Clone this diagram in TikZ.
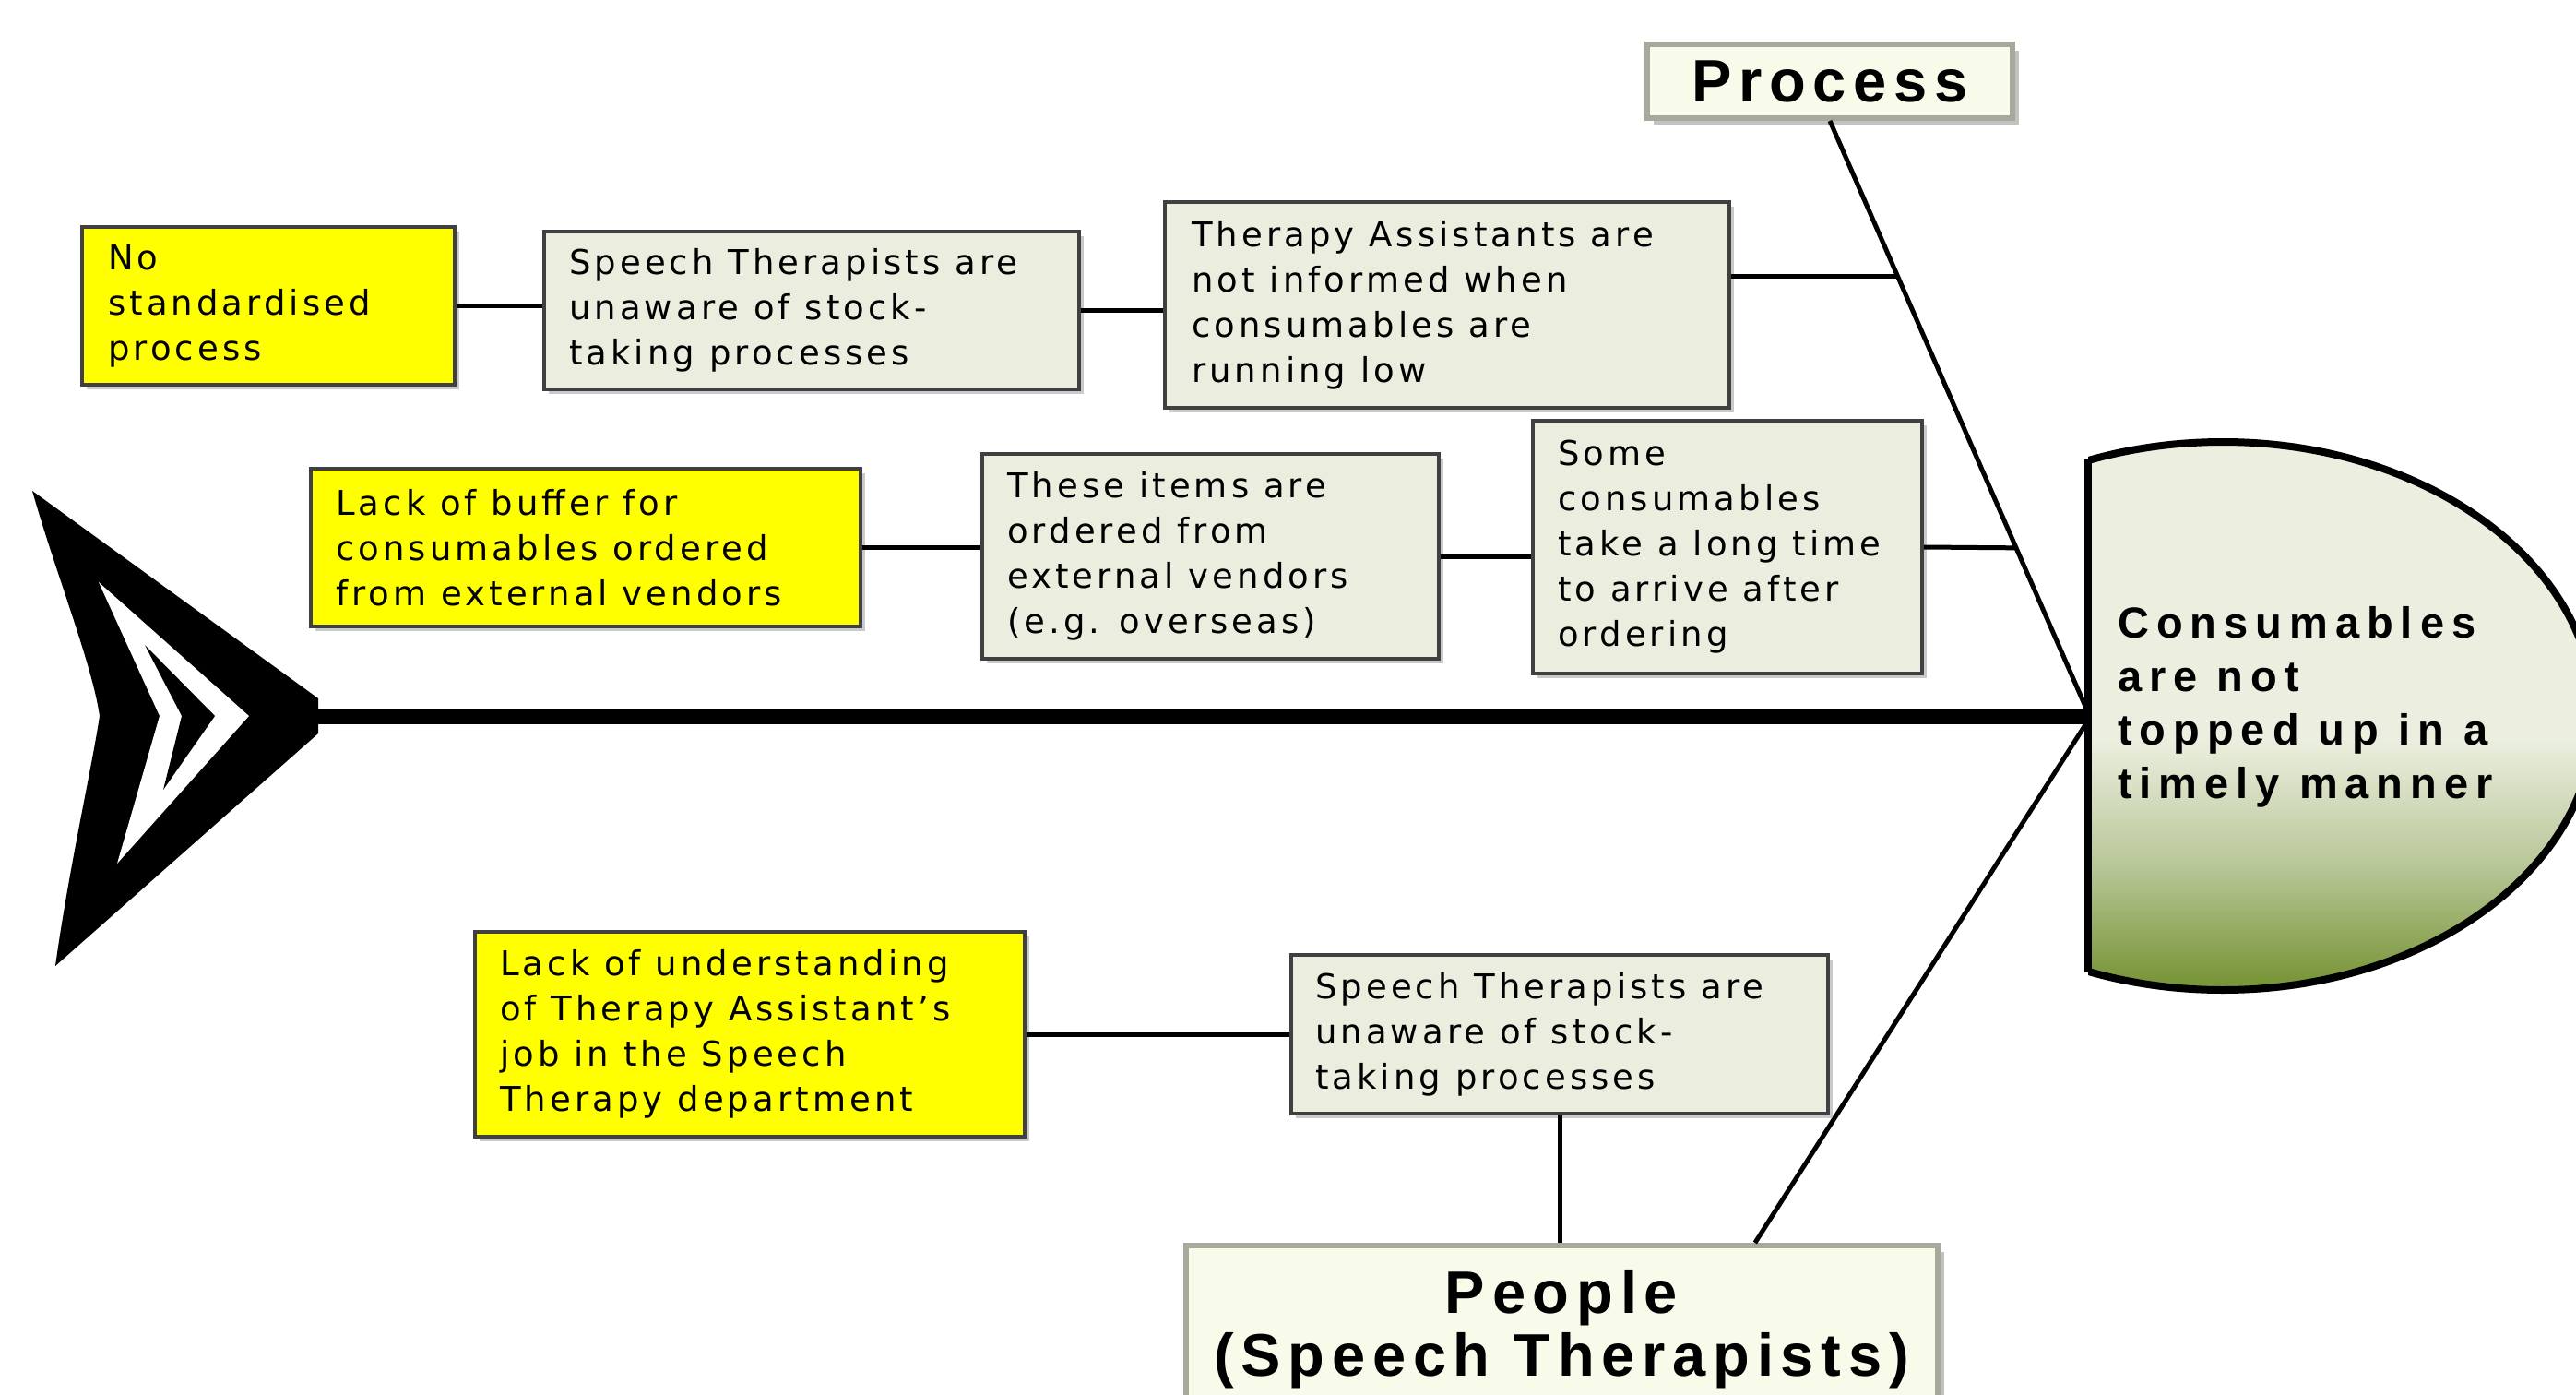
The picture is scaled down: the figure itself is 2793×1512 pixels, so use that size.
\documentclass[tikz,border=0pt]{standalone}
\usepackage{fontspec}
\usetikzlibrary{shadows,calc}
\newfontfamily\boxfont[LetterSpace=11]{DejaVu Sans}
\newfontfamily\headfont[LetterSpace=17]{Liberation Sans}
\newfontfamily\catfont[LetterSpace=12]{Liberation Sans}
\definecolor{boxfill}{HTML}{EBEEDF}
\definecolor{boxline}{HTML}{404040}
\definecolor{yelfill}{HTML}{FFFF00}
\definecolor{catfill}{HTML}{F8FBE9}
\definecolor{catline}{HTML}{A6A99C}
\definecolor{headlight}{HTML}{ECEFE0}
\definecolor{headmid}{HTML}{B6C595}
\definecolor{headgreen}{HTML}{7A963A}
\pgfdeclareverticalshading{headshade}{100bp}{color(0bp)=(headgreen); color(26bp)=(headgreen); color(36bp)=(headmid); color(48bp)=(headlight); color(100bp)=(headlight)}
\tikzset{
  gbox/.style={draw=boxline, line width=4pt, fill=boxfill, inner sep=0pt,
    drop shadow={shadow xshift=5pt, shadow yshift=-5pt, fill=black!35, opacity=0.6}},
  ybox/.style={gbox, fill=yelfill},
  btxt/.style={anchor=west, align=left, inner sep=0pt,
    font=\boxfont\fontsize{37}{49}\selectfont},
  catbox/.style={draw=catline, line width=6pt, fill=catfill, inner sep=0pt,
    drop shadow={shadow xshift=7pt, shadow yshift=-7pt, fill=black!40, opacity=0.6}},
  cattxt/.style={align=center, inner sep=0pt,
    font=\catfont\bfseries\fontsize{65}{68}\selectfont},
  conn/.style={draw=black, line width=5pt},
  bone/.style={draw=black, line width=5pt},
}
\begin{document}
\begin{tikzpicture}[x=1pt, y=-1pt]
\useasboundingbox (0,0) rectangle (2793,1512);

% ---------- fish tail ----------
\fill[black] (35,532) -- (345,757) -- (345,795) -- (60,1047)
   .. controls (75,940) and (100,830) .. (108,776)
   .. controls (100,720) and (60,620) .. cycle;
\fill[white] (107,631) -- (270,776) -- (127,936) -- (173,776) -- cycle;
\fill[black] (157,699) -- (233,776) -- (177,856) -- (197,776) -- cycle;
\coordinate (tailtip) at (340,776);

% ---------- head ----------
\coordinate (headleft) at (2264,776);
\coordinate (hjtop) at (2262,768);
\coordinate (hjbot) at (2262,784);
\begin{scope}
  \clip (2264,0) rectangle (3000,1600);
  \shade[shading=headshade]
     (2410,776) ellipse [x radius=403, y radius=297];
  \draw[line width=8pt] (2410,776) ellipse [x radius=403, y radius=297];
\end{scope}
\draw[line width=8pt] (2264,498) -- (2264,1054);
\node[anchor=west, align=left, inner sep=0pt,
      font=\headfont\bfseries\fontsize{47}{58}\selectfont] (headtxt) at (2296,766)
  {Consumables\\are not\\topped up in a\\timely manner};

% ---------- spine ----------
\draw[line width=17pt] (tailtip) -- (headleft);

% ---------- category boxes ----------
\node[catbox, minimum width=396pt, minimum height=80pt, cattxt] (proc) at (1984,88) {Process};
\node[catbox, minimum width=815pt, minimum height=200pt] (ppl) at (1693.5,1450) {};
\node[cattxt] (ppltxt) at (1693,1441) {People\\(Speech Therapists)};

% ---------- bones ----------
\draw[bone] (proc.south) -- (hjtop);
\coordinate (pplbone) at ($(ppl.north west)!0.755!(ppl.north east)$);
\draw[bone] (pplbone) -- (hjbot);

% ---------- cause boxes ----------
\node[ybox, minimum width=404pt, minimum height=171pt] (b3) at (291,331.5) {};
\node[btxt] (t3) at ($(b3.west)+(30,0)$) {No\\standardised\\process};

\node[gbox, minimum width=580pt, minimum height=171pt] (b4) at (880,336.5) {};
\node[btxt] (t4) at ($(b4.west)+(29,0)$) {Speech Therapists are\\unaware of stock-\\taking processes};

\node[gbox, minimum width=612pt, minimum height=223pt] (b5) at (1569,330.5) {};
\node[btxt] (t5) at ($(b5.west)+(31,0)$) {Therapy Assistants are\\not informed when\\consumables are\\running low};

\node[ybox, minimum width=596pt, minimum height=171pt] (b7) at (635,593.5) {};
\node[btxt] (t7) at ($(b7.west)+(29,0)$) {Lack of buffer for\\consumables ordered\\from external vendors};

\node[gbox, minimum width=495pt, minimum height=222pt] (b8) at (1312.5,603) {};
\node[btxt] (t8) at ($(b8.west)+(29,0)$) {These items are\\ordered from\\external vendors\\(e.g. overseas)};

\node[gbox, minimum width=422pt, minimum height=274pt] (b9) at (1873,593) {};
\node[btxt] (t9) at ($(b9.west)+(29,0)$) {Some\\consumables\\take a long time\\to arrive after\\ordering};

\node[ybox, minimum width=596pt, minimum height=222pt] (b12) at (813,1121) {};
\node[btxt] (t12) at ($(b12.west)+(29,0)$) {Lack of understanding\\of Therapy Assistant’s\\job in the Speech\\Therapy department};

\node[gbox, minimum width=582pt, minimum height=172pt] (b13) at (1691,1121) {};
\node[btxt] (t13) at ($(b13.west)+(28,0)$) {Speech Therapists are\\unaware of stock-\\taking processes};

% ---------- connectors ----------
\coordinate (pb1) at ($(proc.south)!0.264!(hjtop)$);
\coordinate (pb2) at ($(proc.south)!0.7266!(hjtop)$);
\draw[conn] (b3.east) -- (b3.east -| b4.west);
\draw[conn] (b4.east) -- (b4.east -| b5.west);
\draw[conn] (pb1 -| b5.east) -- (pb1);
\draw[conn] (b7.east) -- (b7.east -| b8.west);
\draw[conn] (b8.east) -- (b8.east -| b9.west);
\draw[conn] (b9.east) -- (pb2);
\draw[conn] (b12.east) -- (b13.west);
\draw[conn] (b13.south) -- (b13.south |- ppl.north);
\end{tikzpicture}
\end{document}
